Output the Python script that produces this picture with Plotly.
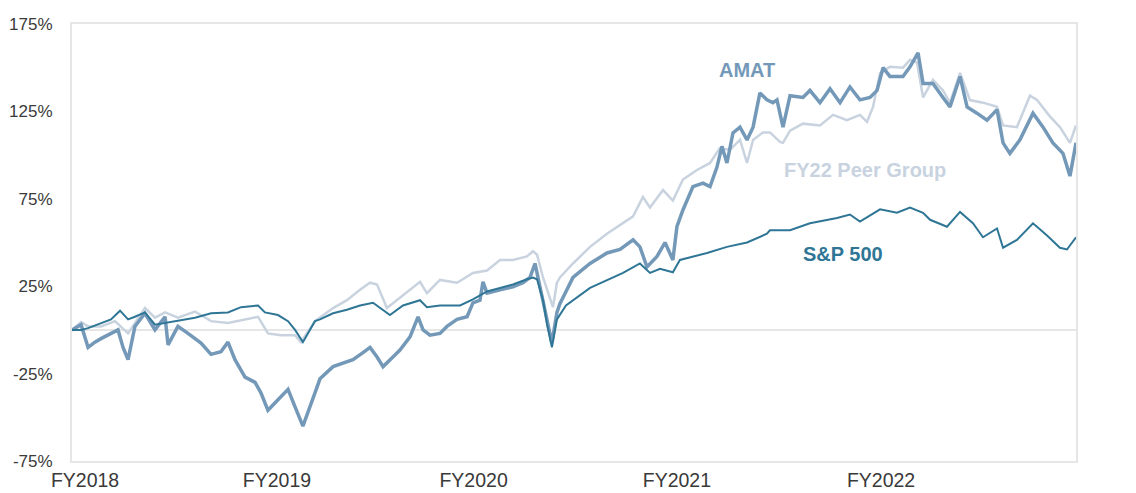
import plotly.graph_objects as go

# Time axis: months since start of FY2018 (0 .. 60)
spx_t = [0, 0.54, 0.96, 1.73, 2.33, 2.87, 3.35, 3.76, 4.36, 4.96, 5.56, 6.33, 7.35, 8.31, 9.32,
         10.10, 11.12, 11.53, 12.31, 12.91, 13.33, 13.80, 14.52, 14.82, 15.60, 16.43, 17.21, 17.99,
         19.00, 19.78, 20.80, 21.21, 21.99, 23.19, 23.96, 24.80, 25.58, 26.35, 27.19, 27.55, 27.79,
         28.15, 28.39, 28.68, 28.98, 29.52, 30.96, 32.93, 33.94, 34.54, 35.14, 35.91, 36.33, 37.95,
         39.14, 40.34, 41.53, 41.71, 42.91, 44.10, 45.72, 46.49, 47.09, 48.29, 49.30, 50.08, 50.86,
         51.28, 52.29, 53.07, 53.84, 54.44, 55.28, 55.64, 56.47, 57.43, 58.27, 59.04, 59.46, 60.0]
spx_v = [0, 0, 1, 4, 6, 11, 6, 7.5, 10, 3, 4, 5, 7, 9.5, 10,
         13, 14, 10, 8.5, 5, 0, -7, 5, 6, 9.5, 11.5, 14, 15.5,
         8.5, 14, 17, 13, 14, 14, 17.5, 22, 24, 26, 29, 30, 29,
         17, 3, -10, 6, 14, 24, 32.6, 38, 32.6, 35, 33, 40, 44,
         47.5, 50, 55, 57, 57, 61, 64, 66, 62, 69, 67, 70, 67,
         63, 59, 67.5, 61, 53, 58, 47, 51.5, 61, 54, 47, 46, 53]

peer_t = [0, 0.54, 0.96, 1.73, 2.57, 3.35, 4.36, 4.96, 5.56, 6.33, 7.35, 8.31, 9.32, 10.10, 11.12,
          11.71, 12.49, 13.33, 13.68, 14.52, 14.82, 15.60, 16.43, 17.21, 17.81, 18.23, 18.82, 19.42,
          20.02, 20.80, 21.21, 21.99, 23.01, 23.96, 24.80, 25.58, 26.35, 27.19, 27.55, 27.79, 28.15,
          28.74, 28.98, 29.16, 29.94, 30.96, 31.97, 32.75, 33.53, 34.12, 34.54, 35.32, 35.91, 36.51,
          37.35, 38.13, 38.72, 39.32, 39.92, 40.34, 40.70, 41.29, 41.71, 42.31, 42.49, 42.91, 43.68,
          44.70, 45.48, 46.31, 47.09, 47.51, 47.87, 48.29, 48.88, 49.66, 50.08, 50.50, 50.86, 51.45,
          52.05, 52.47, 53.07, 53.66, 54.44, 55.28, 55.64, 56.47, 57.25, 57.67, 58.45, 59.04, 59.64, 60.0]
peer_v = [0, 4.5, 2, 2, 5, -2, 12.5, 7, 10, 7, 10.5, 5, 4, 5.5, 7.5,
          -2, -3, -3, -7, 5, 7, 12.5, 17, 23, 27, 26, 12.5, 17,
          22, 27.5, 21, 28.6, 27, 32.6, 34, 40, 40, 42, 45, 43, 30,
          13, 27, 30, 38, 47.5, 55, 60, 65, 76, 70, 80, 74, 86,
          91.5, 95.5, 104, 103, 108.7, 95.5, 108.7, 113, 113, 107.5, 107, 114, 118,
          117, 123, 120, 123, 119, 127.6, 147, 150.5, 150, 154.5, 153, 133, 143,
          137, 130, 147, 131.5, 130, 127.6, 117, 116, 134, 131.5, 122, 116, 107, 117]

amat_t = [0, 0.54, 0.96, 1.37, 1.73, 2.33, 2.75, 3.05, 3.35, 3.76, 4.36, 4.96, 5.56, 5.74, 6.33,
          6.93, 7.71, 8.31, 8.90, 9.32, 9.74, 10.34, 10.94, 11.29, 11.71, 12.31, 12.91, 13.33, 13.80,
          14.52, 14.82, 15.60, 16.20, 16.79, 17.39, 17.81, 18.23, 18.59, 19.18, 19.60, 20.20, 20.68,
          20.98, 21.39, 21.99, 22.41, 23.01, 23.61, 23.96, 24.38, 24.56, 24.80, 25.58, 26.35, 26.95,
          27.37, 27.67, 27.97, 28.39, 28.68, 28.98, 29.16, 29.94, 30.96, 31.97, 32.75, 33.53, 33.94,
          34.36, 34.96, 35.44, 35.91, 36.15, 36.51, 37.11, 37.71, 38.13, 38.54, 38.84, 39.14, 39.50,
          39.92, 40.34, 40.70, 41.11, 41.53, 41.89, 42.13, 42.49, 42.91, 43.68, 44.10, 44.70, 45.30,
          45.90, 46.49, 47.09, 47.69, 48.11, 48.47, 48.88, 49.66, 50.08, 50.56, 50.86, 51.45, 52.05,
          52.47, 53.07, 53.49, 54.08, 54.68, 55.28, 55.64, 56.05, 56.65, 57.43, 58.03, 58.62, 59.22,
          59.64, 60.0]
amat_v = [0, 3, -10, -7, -5, -2, 0, -10, -17, 2, 9.5, 0, 7.5, -8.6, 2,
          -2, -7.5, -14, -12.5, -7, -17, -27, -30, -36, -46, -40, -34, -44, -55,
          -36, -28, -21, -19, -17, -13, -10, -15.5, -21, -15.5, -11.5, -4, 7.5,
          0, -3, -2, 2, 6, 7.5, 15.5, 17, 27.5, 21, 23, 24.6, 27,
          30, 38, 24.6, 6, -7.5, 10, 15, 30, 38, 44, 46, 51.5, 47.5,
          36, 42, 50, 40, 59, 68.6, 82, 84, 82, 93, 105, 95.5, 112.7,
          116, 108.7, 116, 135.6, 131.6, 130, 131.6, 116, 134, 133, 137, 130, 138,
          130, 139, 131.6, 133, 137, 150, 145, 145, 150.5, 158.5, 141, 141, 133,
          127.6, 145, 127.6, 124, 120, 126, 107, 101, 108.7, 124, 116, 107, 101,
          88, 107]

x_tick_labels = ["FY2018", "FY2019", "FY2020", "FY2021", "FY2022"]
x_tick_pos = [0.78, 12.25, 24.0, 36.15, 48.35]
y_ticks = [-75, -25, 25, 75, 125, 175]
y_tick_labels = [f"{v}%" for v in y_ticks]

C_PEER = "#c8d3df"
C_AMAT = "#7499b8"
C_SPX = "#2f7696"
FONT = "Liberation Sans, Arial, sans-serif"

fig = go.Figure()
fig.add_trace(go.Scatter(x=peer_t, y=peer_v, mode="lines", name="FY22 Peer Group",
                         line=dict(color=C_PEER, width=2.5), showlegend=False))
fig.add_trace(go.Scatter(x=amat_t, y=amat_v, mode="lines", name="AMAT",
                         line=dict(color=C_AMAT, width=3.5), showlegend=False))
fig.add_trace(go.Scatter(x=spx_t, y=spx_v, mode="lines", name="S&P 500",
                         line=dict(color=C_SPX, width=2), showlegend=False))

ann = [
    dict(x=40.31, y=148.7, text="<b>AMAT</b>", color=C_AMAT, xanchor="center", size=20),
    dict(x=47.42, y=91.5, text="<b>FY22 Peer Group</b>", color=C_PEER, xanchor="center", size=20),
    dict(x=46.08, y=43.5, text="<b>S&P 500</b>", color=C_SPX, xanchor="center", size=20),
    dict(x=60.4, y=115.6, text="117%", color=C_PEER, xanchor="left", size=20),
    dict(x=60.4, y=101.3, text="<b>107%</b>", color=C_AMAT, xanchor="left", size=20),
    dict(x=60.4, y=51.0, text="<b>53%</b>", color=C_SPX, xanchor="left", size=20),
]
for a in ann:
    fig.add_annotation(x=a["x"], y=a["y"], text=a["text"], showarrow=False,
                       xanchor=a["xanchor"], yanchor="middle",
                       font=dict(family=FONT, size=a["size"], color=a["color"]))

fig.update_layout(
    width=1136, height=493, autosize=False,
    margin=dict(l=72, r=60, t=24, b=32, pad=0),
    plot_bgcolor="white", paper_bgcolor="white",
    font=dict(family=FONT, color="#3a3a3a"),
    xaxis=dict(range=[0, 60], tickvals=x_tick_pos, ticktext=x_tick_labels,
               automargin=False,
               showgrid=False, zeroline=False, showline=True, mirror=True,
               linecolor="#e6e6e6", linewidth=2, ticks="outside", ticklen=1,
               tickcolor="rgba(0,0,0,0)", tickfont=dict(size=19.5, color="#3a3a3a")),
    yaxis=dict(range=[-75, 175], tickvals=y_ticks, ticktext=y_tick_labels,
               automargin=False,
               showgrid=False, zeroline=True, zerolinecolor="#e6e6e6", zerolinewidth=2,
               showline=True, mirror=True, linecolor="#e6e6e6", linewidth=2,
               ticks="outside", ticklen=14, tickcolor="rgba(0,0,0,0)",
               tickfont=dict(size=17, color="#3a3a3a")),
)

fig.write_html("out.html", config={"displayModeBar": False},
               post_script="document.body.style.margin='0';document.body.style.overflow='hidden';")
